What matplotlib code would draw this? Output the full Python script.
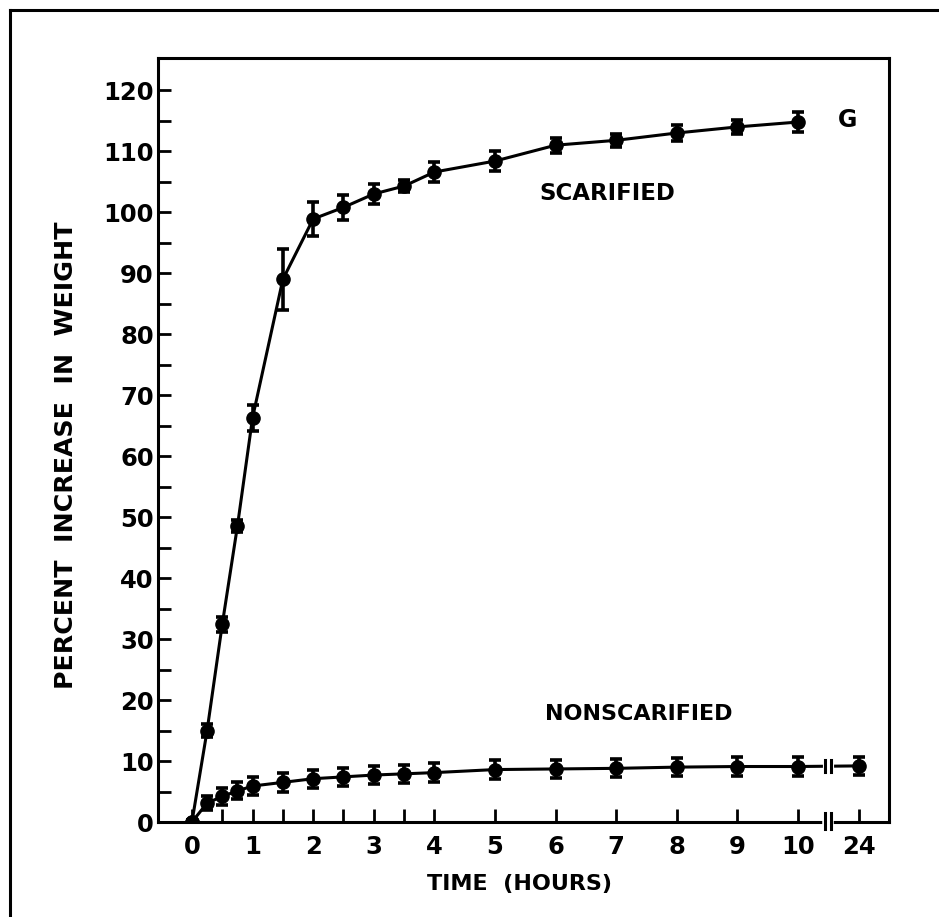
import matplotlib
matplotlib.use("Agg")
import matplotlib.pyplot as plt
from matplotlib.lines import Line2D

# data (percent increase in weight vs time in hours)
scar_hours = [0, 0.25, 0.5, 0.75, 1, 1.5, 2, 2.5, 3, 3.5, 4, 5, 6, 7, 8, 9, 10]
scar_pct = [0, 15, 32.4, 48.5, 66.3, 89, 98.9, 100.8, 103, 104.3, 106.6, 108.4, 111, 111.8, 113, 114, 114.8]
scar_err = [0.4, 1.1, 1.3, 1.0, 2.1, 5.0, 2.8, 2.1, 1.6, 1.0, 1.6, 1.7, 1.2, 1.1, 1.3, 1.1, 1.6]

nons_hours = [0, 0.25, 0.5, 0.75, 1, 1.5, 2, 2.5, 3, 3.5, 4, 5, 6, 7, 8, 9, 10, 24]
nons_pct = [0, 3.1, 4.2, 5.1, 5.9, 6.5, 7.1, 7.4, 7.7, 7.9, 8.1, 8.6, 8.7, 8.8, 9.0, 9.1, 9.1, 9.2]
nons_err = [0.4, 1.2, 1.4, 1.4, 1.4, 1.5, 1.5, 1.5, 1.5, 1.5, 1.5, 1.5, 1.5, 1.5, 1.5, 1.5, 1.5, 1.5]

xtick_labels = ["0", "1", "2", "3", "4", "5", "6", "7", "8", "9", "10", "24"]


# axis is broken after 10 h: 24 h is drawn one unit past 10
def pos(h):
    return h if h <= 10 else 11


plt.rcParams['font.family'] = ['DejaVu Sans']
plt.rcParams['font.weight'] = 'bold'
plt.rcParams['axes.labelweight'] = 'bold'

fig = plt.figure(figsize=(9.39, 9.17), dpi=100)
ax = fig.add_axes([158/939, 1 - 822/917, (889-158)/939, (822-58)/917])

lw = 2.2
for hours, pct, err in [(scar_hours, scar_pct, scar_err), (nons_hours, nons_pct, nons_err)]:
    xs = [pos(h) for h in hours]
    ax.errorbar(xs, pct, yerr=err, fmt='o', color='black', markersize=9.5,
                elinewidth=2.6, capsize=4, capthick=2.6, zorder=3)
    ax.plot(xs, pct, color='black', lw=lw, zorder=2)

# break marks on the 24 h segment and on the x axis
brk = [10.45, 10.55]
y24 = nons_pct[-1]
ax.plot(brk, [y24, y24], color='white', lw=lw + 1.5, zorder=2.5)
for b in brk:
    ax.plot([b, b], [y24 - 1.0, y24 + 1.0], color='black', lw=2.2, zorder=2.6)
    ax.plot([b, b], [-1.2, 1.4], color='black', lw=2.2, clip_on=False, zorder=5)
ax.plot(brk, [0, 0], color='white', lw=4, clip_on=False, zorder=4)

ax.set_xlim(-0.56, 11.5)
ax.set_ylim(0, 125.3)

ax.set_xticks(range(12))
ax.set_xticklabels(xtick_labels)
ax.set_xticks([0.5, 1.5, 2.5, 3.5], minor=True)
ax.set_yticks(range(0, 121, 10))
ax.set_yticks(range(5, 121, 10), minor=True)

ax.tick_params(which='both', direction='in', length=9.5, width=2.0, labelsize=17.5)
ax.tick_params(axis='x', which='both', top=False, pad=9)
ax.tick_params(axis='y', which='both', right=False, pad=3)
for s in ax.spines.values():
    s.set_linewidth(2.2)

ax.set_xlabel("TIME  (HOURS)", fontsize=16)
ax.xaxis.set_label_coords(0.495, -0.068)
ax.set_ylabel("PERCENT  INCREASE  IN  WEIGHT", fontsize=18.2)
ax.yaxis.set_label_coords(-0.11, 0.48)

ax.text(5.74, 103.1, "SCARIFIED", fontsize=16.5, va='center', ha='left')
ax.text(5.83, 17.7, "NONSCARIFIED", fontsize=16, va='center', ha='left')
ax.text(10.81, 115.1, "G", fontsize=17, va='center', ha='center')

# outer frame of the original plate (only top and left survive the crop)
fig.add_artist(Line2D([10/939, 10/939], [0, 1 - 10/917], color='black', lw=2.2))
fig.add_artist(Line2D([10/939, 1], [1 - 10/917, 1 - 10/917], color='black', lw=2.2))

fig.savefig("out.png", dpi=100)
